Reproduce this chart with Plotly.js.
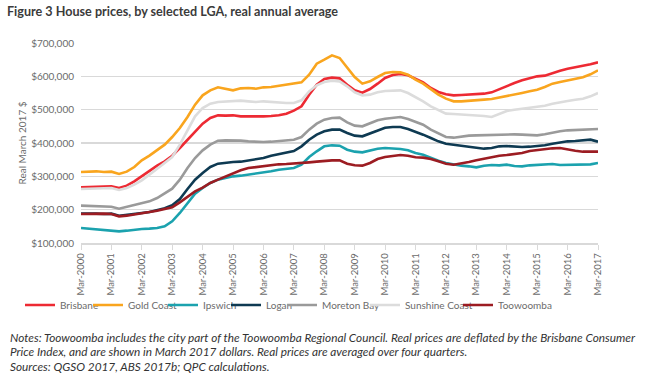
<!DOCTYPE html>
<html>
<head>
<meta charset="utf-8">
<script src="https://cdn.plot.ly/plotly-3.0.1.min.js"></script>
<style>
  html, body { margin: 0; padding: 0; background: #ffffff; }
  #chart { width: 649px; height: 384px; }
</style>
</head>
<body>
<div id="chart"></div>
<script>
// Quarterly categories, Mar-2000 to Mar-2017
const startYear = 2000;
const quarterMonths = ["03", "06", "09", "12"];
const quarters = [];
for (let i = 0; i <= 68; i++) {
  quarters.push((startYear + Math.floor(i / 4)) + "-" + quarterMonths[i % 4] + "-01");
}

// Real March 2017 prices, thousands of dollars
const brisbane = [267,268,269,269,270,265,272,285,300,318,332,345,362,385,410,435,458,475,483,482,483,480,480,478,480,481,483,488,497,510,545,575,592,596,594,575,558,551,562,578,595,604,607,603,593,582,565,553,546,543,544,545,546,548,552,562,572,580,588,595,600,602,610,617,623,627,631,636,642];
const goldCoast = [313,314,315,313,314,307,314,328,348,362,378,395,418,445,478,515,543,558,567,562,558,564,565,563,567,568,572,575,578,582,605,638,650,663,655,628,598,578,585,598,610,613,612,605,590,578,560,545,533,525,525,526,528,530,532,536,542,545,550,555,560,568,578,583,588,593,597,606,618];
const ipswich = [145,143,142,140,138,135,137,140,142,143,145,150,165,190,220,248,265,280,290,296,300,302,305,307,310,315,320,323,325,335,358,375,390,393,392,380,374,372,377,383,385,384,382,378,370,365,355,347,340,335,332,330,327,332,334,333,335,331,330,333,335,336,337,334,334,335,334,336,340];
const logan = [188,189,188,187,188,182,184,187,190,193,198,204,213,232,262,290,310,328,338,341,343,344,347,352,355,362,367,372,376,390,410,425,435,440,440,430,422,420,428,438,446,448,448,442,434,425,415,405,398,395,392,388,385,383,385,390,391,389,388,389,390,393,398,402,405,406,408,410,404];
const moretonBay = [212,211,210,209,209,203,208,213,218,225,235,248,263,290,325,355,378,395,407,408,408,407,405,403,403,404,406,408,410,418,440,458,470,475,476,462,452,450,458,468,473,476,478,472,463,455,440,428,418,416,420,422,423,424,424,425,425,426,425,424,423,426,431,435,438,439,440,441,442];
const sunshineCoast = [262,263,264,264,265,259,265,275,288,305,322,340,358,395,440,480,505,518,523,525,525,527,525,523,525,523,521,520,520,528,555,573,583,587,585,570,552,543,545,552,556,558,558,550,538,525,510,498,488,487,486,484,483,481,478,488,496,500,503,505,508,512,518,523,526,530,533,540,550];
const toowoomba = [187,188,189,188,187,180,182,185,189,193,197,202,207,222,240,255,266,280,290,300,309,318,325,328,332,334,336,337,338,340,342,344,347,348,348,338,333,332,340,352,358,362,364,362,357,356,352,345,338,335,338,343,348,353,358,362,364,366,370,376,379,382,384,385,380,377,374,374,374];

const seriesNames = ["Brisbane", "Gold Coast", "Ipswich", "Logan", "Moreton Bay", "Sunshine Coast", "Toowoomba"];
const seriesValues = [brisbane, goldCoast, ipswich, logan, moretonBay, sunshineCoast, toowoomba];
const seriesColors = ["#ED2A33", "#F9A51E", "#1BA2AE", "#0E3A52", "#9A9A9A", "#DCDCDC", "#9C1C22"];

const titleText = "Figure 3 House prices, by selected LGA, real annual average";
const yTitle = "Real March 2017 $";
const notes = [
  "Notes: Toowoomba includes the city part of the Toowoomba Regional Council. Real prices are deflated by the Brisbane Consumer",
  "Price Index, and are shown in March 2017 dollars. Real prices are averaged over four quarters.",
  "Sources: QGSO 2017, ABS 2017b; QPC calculations."
];

const FONT = "Lato, 'Open Sans', sans-serif";
// one single-item legend per series, so entries sit where the original's do
const legendLeft = [20, 88, 163, 226, 282, 365, 458];

const traces = seriesNames.map((name, k) => ({
  type: "scatter",
  mode: "lines",
  name: name,
  x: quarters,
  y: seriesValues[k].map(v => v * 1000),
  line: { color: seriesColors[k], width: 2.6 },
  legend: k === 0 ? "legend" : "legend" + (k + 1),
  hoverinfo: "skip"
}));

const L = 81, R = 51, T = 43, B = 141;
const plotW = 649 - L - R, plotH = 384 - T - B;
function px2paperX(px) { return (px - L) / plotW; }
function py2paperY(py) { return (384 - B - py) / plotH; }

const annotations = notes.map((t, i) => ({
  text: "<i>" + t + "</i>",
  xref: "paper", yref: "paper",
  x: px2paperX(8), y: py2paperY(337.5 + i * 14.3),
  xanchor: "left", yanchor: "middle",
  showarrow: false,
  font: { family: FONT, size: 11.8, color: "#333333" }
}));

const layout = {
  width: 649, height: 384,
  margin: { l: L, r: R, t: T, b: B },
  paper_bgcolor: "#ffffff", plot_bgcolor: "#ffffff",
  showlegend: true,
  title: {
    text: "<b>" + titleText + "</b>",
    x: 7 / 649, xanchor: "left", xref: "container",
    y: 1 - 12 / 384, yanchor: "middle", yref: "container",
    font: { family: FONT, size: 12.6, color: "#3b3b3b" }
  },
  xaxis: {
    type: "date",
    range: [quarters[0], quarters[quarters.length - 1]],
    tick0: quarters[0], dtick: "M12",
    tickformat: "%b-%Y",
    tickangle: -90,
    ticks: "outside", ticklen: 5, tickcolor: "#d9d9d9", tickwidth: 1,
    showline: true, linecolor: "#d9d9d9", linewidth: 1.5,
    showgrid: false, zeroline: false,
    tickfont: { family: FONT, size: 9.5, color: "#6b6b6b" },
    fixedrange: true
  },
  yaxis: {
    range: [100000, 700000],
    dtick: 100000, tick0: 0,
    tickprefix: "$", tickformat: ",.0f",
    showgrid: true, gridcolor: "#d9d9d9", gridwidth: 1.5,
    zeroline: false, showline: false, ticks: "",
    ticklabelstandoff: 6,
    tickfont: { family: FONT, size: 10, color: "#6b6b6b" },
    title: { text: yTitle, font: { family: FONT, size: 10, color: "#6b6b6b" }, standoff: 2 },
    fixedrange: true
  },
  annotations: annotations
};

legendLeft.forEach((lx, k) => {
  const key = k === 0 ? "legend" : "legend" + (k + 1);
  layout[key] = {
    orientation: "h",
    xref: "container", yref: "container",
    x: lx / 649, xanchor: "left",
    y: 1 - 305 / 384, yanchor: "middle",
    font: { family: FONT, size: 10, color: "#6b6b6b" },
    itemwidth: 30,
    bgcolor: "rgba(0,0,0,0)"
  };
});

Plotly.newPlot("chart", traces, layout, { displayModeBar: false, staticPlot: true });
</script>
</body>
</html>
